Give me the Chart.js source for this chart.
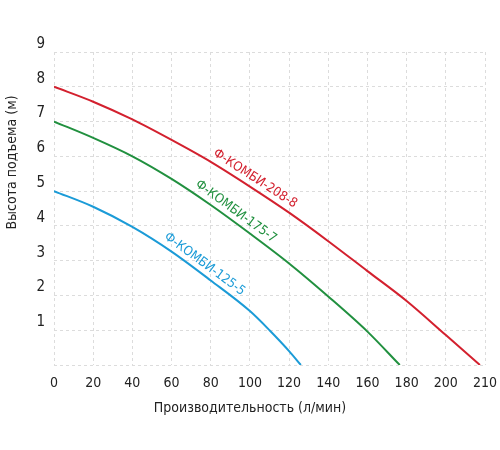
<!DOCTYPE html>
<html>
<head>
<meta charset="utf-8">
<script src="https://cdn.jsdelivr.net/npm/chart.js@4/dist/chart.umd.min.js"></script>
<style>
  html, body { margin: 0; padding: 0; background: #fff; }
  #wrap { width: 500px; height: 450px; }
</style>
</head>
<body>
<div id="wrap"><canvas id="pumpChart" width="500" height="450"></canvas></div>
<script>
// Кривые насосов: расход (л/мин) и высота подъема (м)
const seriesNames = ["Ф-КОМБИ-208-8", "Ф-КОМБИ-175-7", "Ф-КОМБИ-125-5"];
const seriesColors = ["#d3202e", "#21903f", "#1b9bd7"];

const flowRed = [0, 20, 40, 60, 80, 100, 120, 140, 160, 180, 200, 208.7];
const headRed = [8.0, 7.57, 7.06, 6.47, 5.84, 5.13, 4.38, 3.56, 2.7, 1.84, 0.86, 0];

const flowGreen = [0, 20, 40, 60, 80, 100, 120, 140, 160, 176.5];
const headGreen = [7.0, 6.53, 6.0, 5.35, 4.6, 3.78, 2.92, 1.97, 0.96, 0];

const flowBlue = [0, 20, 40, 60, 80, 100, 110, 120, 126];
const headBlue = [5.0, 4.55, 3.97, 3.26, 2.43, 1.55, 1.0, 0.4, 0];

// где ставить подпись вдоль кривой (л/мин)
const labelAt = [100, 90, 74];

// подписи осей X: после 200 шаг сжат (200 -> 210 занимает целый интервал)
const xTickLabels = ["0", "20", "40", "60", "80", "100", "120", "140", "160", "180", "200", "210"];

const FONT = "'Liberation Sans Narrow', 'DejaVu Sans Condensed', sans-serif";

// перевод расхода в позицию на оси (последний интервал растянут)
function toAxis(q) {
    return q <= 200 ? q : 200 + (q - 200) * 2;
}

function makePoints(flow, head) {
    return flow.map((q, i) => ({ x: toAxis(q), y: head[i] }));
}

const allFlows = [flowRed, flowGreen, flowBlue];
const allHeads = [headRed, headGreen, headBlue];

// линейная интерполяция высоты на кривой
function headAt(flow, head, q) {
    for (let i = 0; i < flow.length - 1; i++) {
        if (q >= flow[i] && q <= flow[i + 1]) {
            const t = (q - flow[i]) / (flow[i + 1] - flow[i]);
            return head[i] + t * (head[i + 1] - head[i]);
        }
    }
    return head[head.length - 1];
}

// Плагин: подписи вдоль кривых и подписи осей
const curveLabels = {
    id: 'curveLabels',
    afterDatasetsDraw(chart) {
        const ctx = chart.ctx;
        const xs = chart.scales.x, ys = chart.scales.y;
        ctx.save();
        ctx.font = "13px " + FONT;
        ctx.textAlign = 'center';
        ctx.textBaseline = 'bottom';
        seriesNames.forEach((name, i) => {
            const q = labelAt[i];
            const px = xs.getPixelForValue(toAxis(q));
            const py = ys.getPixelForValue(headAt(allFlows[i], allHeads[i], q));
            const x1 = xs.getPixelForValue(toAxis(q - 6));
            const y1 = ys.getPixelForValue(headAt(allFlows[i], allHeads[i], q - 6));
            const x2 = xs.getPixelForValue(toAxis(q + 6));
            const y2 = ys.getPixelForValue(headAt(allFlows[i], allHeads[i], q + 6));
            const ang = Math.atan2(y2 - y1, x2 - x1);
            ctx.save();
            ctx.translate(px, py);
            ctx.rotate(ang);
            ctx.fillStyle = seriesColors[i];
            ctx.fillText(name, 0, -3);
            ctx.restore();
        });

        // подписи осей
        const area = chart.chartArea;
        ctx.fillStyle = '#222';
        ctx.font = "14px " + FONT;
        ctx.textBaseline = 'middle';
        ctx.fillText("Производительность (л/мин)", 250, 408);
        ctx.save();
        ctx.translate(12, (area.top + area.bottom) / 2 - 46);
        ctx.rotate(-Math.PI / 2);
        ctx.fillText("Высота подъема (м)", 0, 0);
        ctx.restore();
        ctx.restore();
    }
};

const datasets = seriesNames.map((name, i) => ({
    label: name,
    data: makePoints(allFlows[i], allHeads[i]),
    borderColor: seriesColors[i],
    backgroundColor: seriesColors[i],
    borderWidth: 2,
    pointRadius: 0,
    fill: false,
    cubicInterpolationMode: 'monotone'
}));

const gridStyle = {
    color: '#dcdcdc',
    lineWidth: 1,
    drawTicks: false
};

new Chart(document.getElementById('pumpChart').getContext('2d'), {
    type: 'line',
    data: { datasets: datasets },
    options: {
        responsive: false,
        animation: false,
        layout: { padding: { top: 52, right: 15, left: 0, bottom: 0 } },
        plugins: {
            legend: { display: false },
            tooltip: { enabled: false }
        },
        scales: {
            x: {
                type: 'linear',
                min: 0,
                max: 220,
                grid: gridStyle,
                border: { display: false, dash: [3, 3] },
                afterFit: s => {
                    s.height = 85;
                    s.paddingLeft = 0;
                    s.paddingRight = 0;
                },
                ticks: {
                    stepSize: 20,
                    padding: 10,
                    color: '#222',
                    font: { family: FONT, size: 14 },
                    maxRotation: 0,
                    callback: v => xTickLabels[v / 20]
                }
            },
            y: {
                min: 0,
                max: 9,
                grid: gridStyle,
                border: { display: false, dash: [3, 3] },
                afterFit: s => {
                    s.width = 54;
                    s.paddingTop = 0;
                    s.paddingBottom = 0;
                },
                ticks: {
                    stepSize: 1,
                    padding: 9,
                    labelOffset: -8,
                    color: '#222',
                    font: { family: FONT, size: 15 },
                    callback: v => (v === 0 ? '' : v)
                }
            }
        }
    },
    plugins: [curveLabels]
});
</script>
</body>
</html>
